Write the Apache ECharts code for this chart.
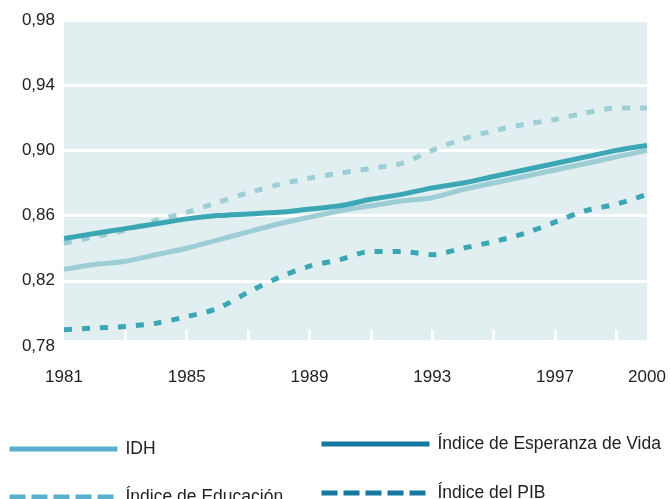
<!DOCTYPE html>
<html>
<head>
<meta charset="utf-8">
<script src="https://cdn.jsdelivr.net/npm/echarts@6/dist/echarts.min.js"></script>
<style>
  html, body { margin: 0; padding: 0; background: #fff; }
  #chart { width: 670px; height: 499px; }
</style>
</head>
<body>
<div id="chart"></div>
<script>
// años y series
var years = ['1981','1982','1983','1984','1985','1986','1987','1988','1989','1990',
             '1991','1992','1993','1994','1995','1996','1997','1998','1999','2000'];
var shownYears = ['1981','1985','1989','1993','1997','2000'];

var idh = [0.827,0.830,0.832,0.836,0.840,0.845,0.850,0.855,0.859,0.863,
           0.866,0.869,0.871,0.876,0.880,0.884,0.888,0.892,0.896,0.900];
var esperanza = [0.846,0.849,0.852,0.855,0.858,0.860,0.861,0.862,0.864,0.866,
                 0.870,0.873,0.877,0.880,0.884,0.888,0.892,0.896,0.900,0.903];
var educacion = [0.843,0.847,0.851,0.857,0.862,0.868,0.874,0.879,0.883,0.886,
                 0.889,0.892,0.900,0.907,0.912,0.916,0.919,0.923,0.926,0.926];
var pib = [0.790,0.791,0.792,0.794,0.798,0.803,0.813,0.822,0.829,0.833,
           0.838,0.838,0.836,0.840,0.844,0.849,0.856,0.863,0.867,0.873];

var names = ['IDH', 'Índice de Esperanza de Vida', 'Índice de Educación', 'Índice del PIB'];

var lightLine = '#9dcdd5';
var darkLine = '#3ba7b5';
var lightLegend = '#5aafcd';
var darkLegend = '#1478a0';
var font = 'Liberation Sans, Arial, sans-serif';

function legendItem(name, color, dashed, left, top) {
  return {
    left: left,
    top: top,
    padding: 0,
    itemWidth: 108,
    itemHeight: 14,
    textStyle: { fontSize: 17.5, color: '#222', fontFamily: font, padding: [0, 0, 0, 3] },
    data: [{
      name: name,
      // sólo la línea, sin el símbolo del centro
      itemStyle: { color: 'rgba(0,0,0,0)', borderColor: 'rgba(0,0,0,0)', borderWidth: 0 },
      lineStyle: { color: color, width: 5, type: dashed ? [16, 6] : 'solid' }
    }]
  };
}

function lineSeries(name, data, color, dashed) {
  return {
    name: name,
    type: 'line',
    data: data,
    symbol: 'none',
    smooth: 0.3,
    lineStyle: { color: color, width: 5, type: dashed ? [8, 10] : 'solid', cap: 'butt' },
    itemStyle: { color: color },
    emphasis: { disabled: true }
  };
}

var myChart = echarts.init(document.getElementById('chart'));
var options = {
  animation: false,
  grid: {
    left: 64, right: 23, top: 20, bottom: 153,
    show: true, backgroundColor: '#e2eff1', borderWidth: 0
  },
  // el fondo termina un poco por encima de 0,78
  graphic: [{
    type: 'rect',
    left: 64, top: 340, z: 1,
    shape: { width: 583, height: 8 },
    style: { fill: '#fff' },
    silent: true
  }],
  legend: [
    legendItem(names[0], lightLegend, false, 7, 440),
    legendItem(names[1], darkLegend, false, 319, 435),
    legendItem(names[2], lightLegend, true, 7, 488),
    legendItem(names[3], darkLegend, true, 319, 484)
  ],
  xAxis: {
    type: 'category',
    data: years,
    boundaryGap: false,
    axisLine: { show: false },
    axisTick: {
      show: true,
      inside: true,
      length: 16,
      interval: function (i) { return i > 0 && i < years.length - 1 && i % 2 === 0; },
      lineStyle: { color: '#fff', width: 3 }
    },
    axisLabel: {
      interval: function (i, v) { return shownYears.indexOf(v) >= 0; },
      margin: 23,
      fontSize: 17,
      color: '#222',
      fontFamily: font,
      showMaxLabel: true,
      showMinLabel: true
    },
    splitLine: { show: false }
  },
  yAxis: {
    type: 'value',
    min: 0.78,
    max: 0.98,
    interval: 0.04,
    axisLine: { show: false },
    axisTick: { show: false },
    axisLabel: {
      margin: 9,
      fontSize: 17,
      color: '#222',
      fontFamily: font,
      formatter: function (v) { return v.toFixed(2).replace('.', ','); }
    },
    splitLine: { show: true, lineStyle: { color: '#fff', width: 3 } }
  },
  series: [
    lineSeries(names[0], idh, lightLine, false),
    lineSeries(names[2], educacion, lightLine, true),
    lineSeries(names[1], esperanza, darkLine, false),
    lineSeries(names[3], pib, darkLine, true)
  ]
};
myChart.setOption(options);
</script>
</body>
</html>
